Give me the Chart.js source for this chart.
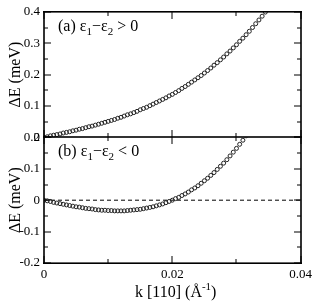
<!DOCTYPE html>
<html>
<head>
<meta charset="utf-8">
<script src="https://cdn.jsdelivr.net/npm/chart.js@4.4.0/dist/chart.umd.min.js"></script>
<style>
  html, body { margin: 0; padding: 0; background: #fff; }
</style>
</head>
<body>
<canvas id="chart" width="316" height="302"></canvas>
<script>
// k along [110] (1/Angstrom), sampled as in the figure
const kValues = [
    0, 0.0005, 0.001, 0.0015, 0.002, 0.0025, 0.003, 0.0035, 0.004, 0.0045,
    0.005, 0.0055, 0.006, 0.0065, 0.007, 0.0075, 0.008, 0.0085, 0.009, 0.0095,
    0.01, 0.0105, 0.011, 0.0115, 0.012, 0.0125, 0.013, 0.0135, 0.014, 0.0145,
    0.015, 0.0155, 0.016, 0.0165, 0.017, 0.0175, 0.018, 0.0185, 0.019, 0.0195,
    0.02, 0.0205, 0.021, 0.0215, 0.022, 0.0225, 0.023, 0.0235, 0.024, 0.0245,
    0.025, 0.0255, 0.026, 0.0265, 0.027, 0.0275, 0.028, 0.0285, 0.029, 0.0295,
    0.03, 0.0305, 0.031, 0.0315, 0.032, 0.0325, 0.033, 0.0335, 0.034, 0.0345
];

// panel (a): eps1 - eps2 > 0
const dEpos = [
    0, 0.002, 0.005, 0.007, 0.009, 0.011, 0.014, 0.016, 0.018, 0.021,
    0.023, 0.026, 0.028, 0.031, 0.034, 0.036, 0.039, 0.042, 0.045, 0.048,
    0.051, 0.054, 0.057, 0.061, 0.064, 0.068, 0.072, 0.075, 0.079, 0.083,
    0.088, 0.092, 0.096, 0.101, 0.106, 0.111, 0.116, 0.121, 0.126, 0.132,
    0.137, 0.143, 0.149, 0.156, 0.162, 0.169, 0.176, 0.183, 0.190, 0.197,
    0.205, 0.213, 0.221, 0.230, 0.238, 0.247, 0.256, 0.266, 0.275, 0.285,
    0.295, 0.306, 0.316, 0.327, 0.338, 0.350, 0.362, 0.374, 0.386, 0.399
];

// panel (b): eps1 - eps2 < 0
const dEneg = [
    0, -0.002, -0.004, -0.007, -0.009, -0.011, -0.013, -0.015, -0.017, -0.019,
    -0.021, -0.022, -0.024, -0.026, -0.027, -0.028, -0.030, -0.031, -0.032, -0.032,
    -0.033, -0.033, -0.034, -0.034, -0.034, -0.034, -0.033, -0.032, -0.031, -0.030,
    -0.029, -0.027, -0.025, -0.023, -0.021, -0.018, -0.015, -0.012, -0.008, -0.004,
    0, 0.005, 0.009, 0.015, 0.020, 0.026, 0.033, 0.039, 0.046, 0.054,
    0.062, 0.070, 0.079, 0.088, 0.098, 0.108, 0.118, 0.129, 0.141, 0.153,
    0.165, 0.178, 0.191, 0.205
];

const zeroLine = [0, 0.04];

const xMajor = [0, 0.02, 0.04];
const xMinor = [0.01, 0.03];
const yTopMajor = [0, 0.1, 0.2, 0.3, 0.4];
const yTopMinor = [0.05, 0.15, 0.25, 0.35];
const yBotMajor = [-0.2, -0.1, 0, 0.1, 0.2];
const yBotMinor = [-0.15, -0.05, 0.05, 0.15];

const SERIF = "'Liberation Serif', 'Times New Roman', serif";

// draw text pieces, some of them as sub/superscripts
function drawRich(ctx, x, y, parts) {
    parts.forEach(p => {
        ctx.font = (p.small ? '11px ' : '16px ') + SERIF;
        ctx.fillText(p.t, x, y + (p.dy || 0));
        x += ctx.measureText(p.t).width;
    });
}

// box, inward ticks, panel labels and x title
const framePlugin = {
    id: 'framePlugin',
    afterDraw(chart) {
        const ctx = chart.ctx;
        const a = chart.chartArea;
        const xs = chart.scales.x, yT = chart.scales.yTop, yB = chart.scales.yBot;
        const mid = Math.round(yT.bottom);
        const L = Math.round(a.left), R = Math.round(a.right);
        const T = Math.round(a.top), B = Math.round(a.bottom);

        ctx.save();
        ctx.fillStyle = '#000';
        // frame and panel divider
        ctx.fillRect(L - 1, T - 1, R - L + 2, 1.6);
        ctx.fillRect(L - 1, B - 0.6, R - L + 2, 1.6);
        ctx.fillRect(L - 1, mid - 0.8, R - L + 2, 1.6);
        ctx.fillRect(L - 0.8, T - 1, 1.6, B - T + 2);
        ctx.fillRect(R - 0.8, T - 1, 1.6, B - T + 2);

        const yTicks = (scale, vals, len) => vals.forEach(v => {
            const py = Math.round(scale.getPixelForValue(v));
            ctx.fillRect(L, py - 0.5, len, 1);
            ctx.fillRect(R - len, py - 0.5, len, 1);
        });
        const xTicks = (vals, len) => vals.forEach(v => {
            const px = Math.round(xs.getPixelForValue(v));
            ctx.fillRect(px - 0.5, T, 1, len);
            ctx.fillRect(px - 0.5, mid - len, 1, 2 * len);
            ctx.fillRect(px - 0.5, B - len, 1, len);
        });
        yTicks(yT, yTopMajor, 7);
        yTicks(yT, yTopMinor, 4);
        yTicks(yB, yBotMajor, 7);
        yTicks(yB, yBotMinor, 4);
        xTicks(xMajor, 7);
        xTicks(xMinor, 4);

        ctx.textBaseline = 'alphabetic';
        ctx.textAlign = 'left';
        drawRich(ctx, L + 14, T + 18.5, [
            {t: '(a) \u03b5'}, {t: '1', small: true, dy: 4.5},
            {t: '\u2212\u03b5'}, {t: '2', small: true, dy: 4.5}, {t: ' > 0'}
        ]);
        drawRich(ctx, L + 14, mid + 18.5, [
            {t: '(b) \u03b5'}, {t: '1', small: true, dy: 4.5},
            {t: '\u2212\u03b5'}, {t: '2', small: true, dy: 4.5}, {t: ' < 0'}
        ]);
        drawRich(ctx, 135, 297, [
            {t: 'k [110] (\u00c5'}, {t: '-1', small: true, dy: -7}, {t: ')'}
        ]);
        ctx.restore();
    }
};

const tickFont = { family: SERIF, size: 13 };
const titleFont = { family: SERIF, size: 16 };

const yTicksCommon = {
    stepSize: 0.1, padding: 4, color: '#000', font: tickFont, autoSkip: false,
    callback: v => String(Math.round(v * 10) / 10)
};
const noGrid = { display: false, drawTicks: false };

new Chart(document.getElementById('chart'), {
    type: 'scatter',
    data: {
        datasets: [
            {
                data: kValues.map((k, i) => ({ x: k, y: dEpos[i] })),
                yAxisID: 'yTop',
                showLine: false,
                pointRadius: 2,
                pointBorderWidth: 1,
                pointBorderColor: '#222',
                pointBackgroundColor: 'rgba(255,255,255,0)'
            },
            {
                data: dEneg.map((v, i) => ({ x: kValues[i], y: v })),
                yAxisID: 'yBot',
                showLine: false,
                pointRadius: 2,
                pointBorderWidth: 1,
                pointBorderColor: '#222',
                pointBackgroundColor: 'rgba(255,255,255,0)'
            },
            {
                type: 'line',
                data: zeroLine.map(k => ({ x: k, y: 0 })),
                yAxisID: 'yBot',
                borderColor: '#000',
                borderWidth: 1,
                borderDash: [4, 3],
                pointRadius: 0
            }
        ]
    },
    options: {
        responsive: false,
        animation: false,
        layout: { padding: { top: 7, right: 14, left: 0, bottom: 0 } },
        plugins: { legend: { display: false }, tooltip: { enabled: false } },
        scales: {
            x: {
                type: 'linear',
                min: 0, max: 0.04,
                grid: noGrid,
                border: { display: false },
                ticks: {
                    stepSize: 0.02, padding: 4, color: '#000', font: tickFont,
                    maxRotation: 0, autoSkip: false,
                    callback: v => String(Math.round(v * 100) / 100)
                },
                afterFit: s => { s.height = 39; }
            },
            // left boxes are stacked in reverse order, so the lower panel comes first
            yBot: {
                type: 'linear',
                position: 'left',
                stack: 'panels',
                stackWeight: 1,
                min: -0.2, max: 0.2,
                grid: noGrid,
                border: { display: false },
                ticks: yTicksCommon,
                title: { display: true, text: '\u0394E (meV)', color: '#000', font: titleFont, padding: { top: 6, bottom: 0 } },
                afterFit: s => { s.width = 44; }
            },
            yTop: {
                type: 'linear',
                position: 'left',
                stack: 'panels',
                stackWeight: 1,
                min: 0, max: 0.4,
                grid: noGrid,
                border: { display: false },
                ticks: yTicksCommon,
                title: { display: true, text: '\u0394E (meV)', color: '#000', font: titleFont, padding: { top: 6, bottom: 0 } },
                afterFit: s => { s.width = 44; }
            }
        }
    },
    plugins: [framePlugin]
});
</script>
</body>
</html>
